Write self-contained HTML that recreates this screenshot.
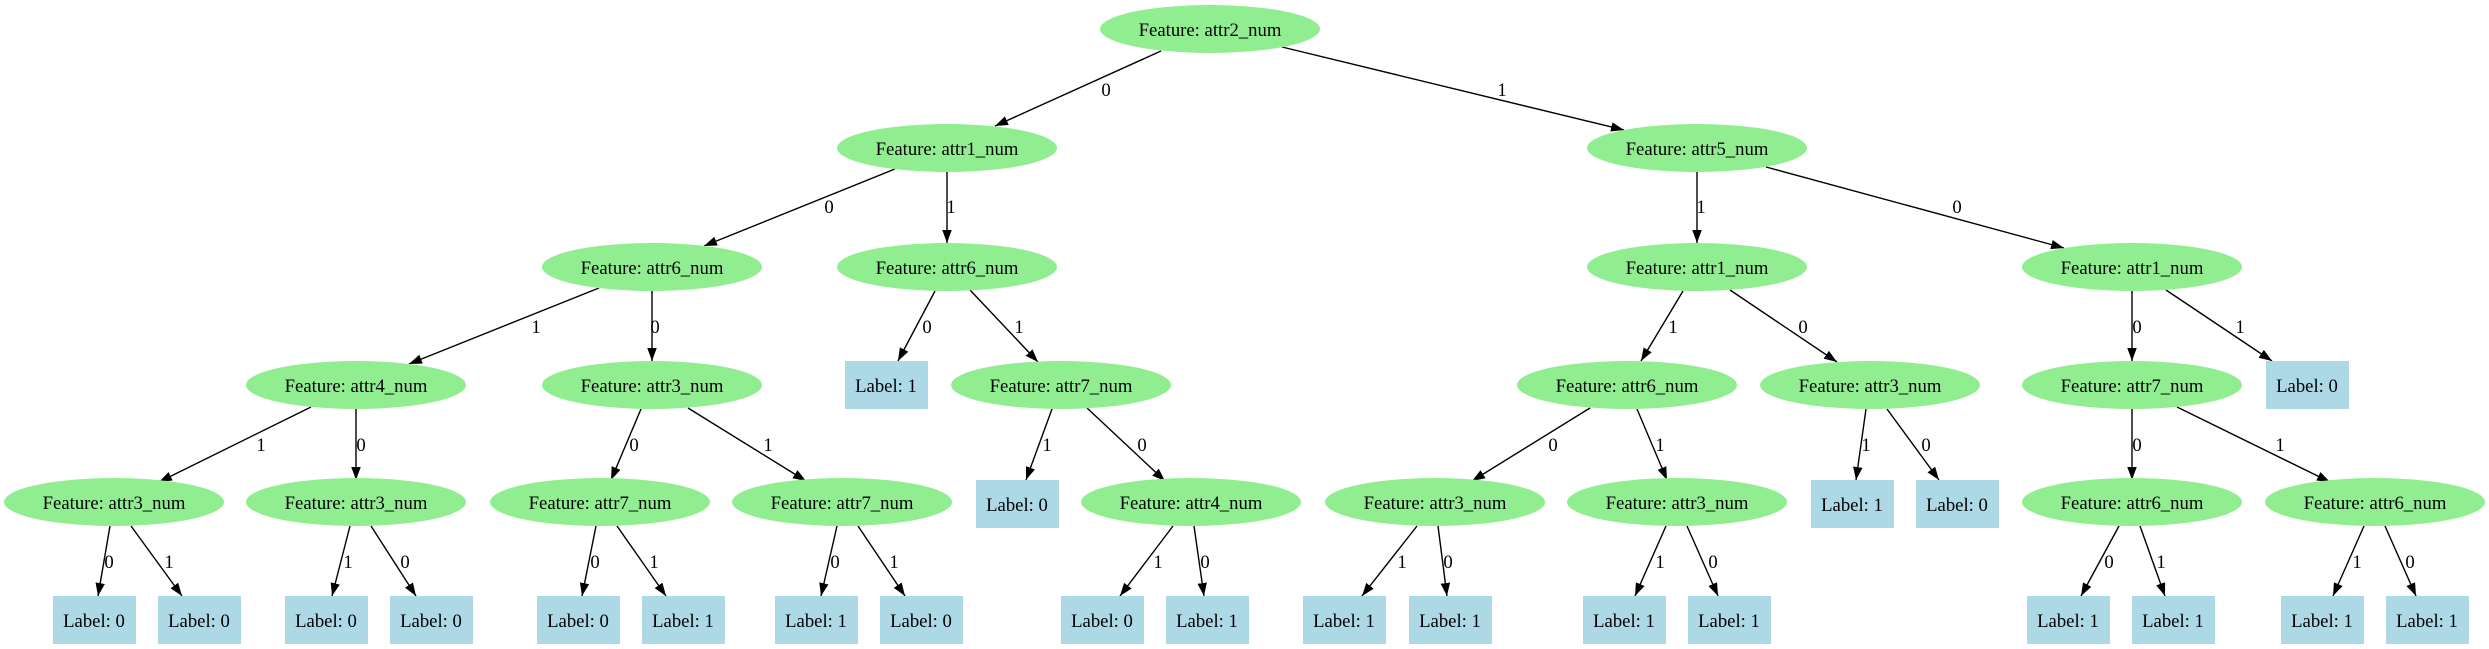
<!DOCTYPE html>
<html><head><meta charset="utf-8"><style>
html,body{margin:0;padding:0;background:#fff;}
svg{display:block;}
text{font-family:"Liberation Serif",serif;font-size:18.7px;fill:#000;text-anchor:middle;}
.e{fill:#90EE90;}
.b{fill:#ADD8E6;}
line{stroke:#000;stroke-width:1.4;}
</style></head><body>
<svg width="2489" height="649" viewBox="0 0 2489 649" xmlns="http://www.w3.org/2000/svg">
<defs><marker id="a" markerUnits="userSpaceOnUse" markerWidth="14" markerHeight="10" refX="13" refY="4.75" orient="auto"><path d="M0,0 L13,4.75 L0,9.5 z" fill="#000"/></marker></defs>
<g marker-end="url(#a)">
<line x1="1161" y1="51" x2="995" y2="126"/>
<line x1="1282" y1="47" x2="1624" y2="130"/>
<line x1="895" y1="169" x2="704" y2="246"/>
<line x1="947" y1="172" x2="947" y2="243"/>
<line x1="1697" y1="172" x2="1697" y2="243"/>
<line x1="1766" y1="167" x2="2064" y2="248"/>
<line x1="599" y1="288" x2="409" y2="364"/>
<line x1="652" y1="291" x2="652" y2="361"/>
<line x1="935" y1="291" x2="898" y2="361"/>
<line x1="970" y1="290" x2="1038" y2="362"/>
<line x1="1683" y1="291" x2="1641" y2="361"/>
<line x1="1730" y1="290" x2="1837" y2="362"/>
<line x1="2132" y1="291" x2="2132" y2="361"/>
<line x1="2166" y1="290" x2="2272" y2="361"/>
<line x1="311" y1="407" x2="159" y2="482"/>
<line x1="356" y1="409" x2="356" y2="480"/>
<line x1="641" y1="409" x2="611" y2="480"/>
<line x1="688" y1="408" x2="806" y2="481"/>
<line x1="1052" y1="409" x2="1026" y2="480"/>
<line x1="1087" y1="408" x2="1165" y2="481"/>
<line x1="1590" y1="408" x2="1472" y2="481"/>
<line x1="1637" y1="409" x2="1667" y2="480"/>
<line x1="1866" y1="409" x2="1856" y2="480"/>
<line x1="1887" y1="409" x2="1939" y2="480"/>
<line x1="2132" y1="409" x2="2132" y2="480"/>
<line x1="2177" y1="407" x2="2330" y2="482"/>
<line x1="110" y1="526" x2="98" y2="596"/>
<line x1="131" y1="526" x2="182" y2="596"/>
<line x1="350" y1="526" x2="332" y2="596"/>
<line x1="371" y1="526" x2="416" y2="596"/>
<line x1="596" y1="526" x2="582" y2="596"/>
<line x1="617" y1="526" x2="666" y2="596"/>
<line x1="837" y1="526" x2="821" y2="596"/>
<line x1="858" y1="526" x2="905" y2="596"/>
<line x1="1173" y1="526" x2="1120" y2="596"/>
<line x1="1194" y1="526" x2="1204" y2="596"/>
<line x1="1417" y1="526" x2="1362" y2="596"/>
<line x1="1438" y1="526" x2="1447" y2="596"/>
<line x1="1666" y1="526" x2="1635" y2="596"/>
<line x1="1687" y1="526" x2="1718" y2="596"/>
<line x1="2119" y1="526" x2="2081" y2="596"/>
<line x1="2140" y1="526" x2="2165" y2="596"/>
<line x1="2364" y1="526" x2="2333" y2="596"/>
<line x1="2385" y1="526" x2="2416" y2="596"/>
</g>
<g>
<text x="1106" y="96">0</text><text x="1502" y="96">1</text>
<text x="829" y="213">0</text><text x="951" y="213">1</text>
<text x="1701" y="213">1</text><text x="1957" y="213">0</text>
<text x="536" y="333">1</text><text x="655" y="333">0</text>
<text x="927" y="333">0</text><text x="1019" y="333">1</text>
<text x="1673" y="333">1</text><text x="1803" y="333">0</text>
<text x="2137" y="333">0</text><text x="2240" y="333">1</text>
<text x="261" y="451">1</text><text x="361" y="451">0</text>
<text x="634" y="451">0</text><text x="768" y="451">1</text>
<text x="1047" y="451">1</text><text x="1142" y="451">0</text>
<text x="1553" y="451">0</text><text x="1660" y="451">1</text>
<text x="1866" y="451">1</text><text x="1926" y="451">0</text>
<text x="2137" y="451">0</text><text x="2280" y="451">1</text>
<text x="109" y="568">0</text><text x="169" y="568">1</text>
<text x="348" y="568">1</text><text x="405" y="568">0</text>
<text x="595" y="568">0</text><text x="654" y="568">1</text>
<text x="835" y="568">0</text><text x="894" y="568">1</text>
<text x="1158" y="568">1</text><text x="1205" y="568">0</text>
<text x="1402" y="568">1</text><text x="1448" y="568">0</text>
<text x="1660" y="568">1</text><text x="1713" y="568">0</text>
<text x="2109" y="568">0</text><text x="2161" y="568">1</text>
<text x="2357" y="568">1</text><text x="2410" y="568">0</text>
</g>
<g>
<ellipse class="e" cx="1210" cy="29" rx="110" ry="24"/><text x="1210" y="36">Feature: attr2_num</text>
<ellipse class="e" cx="947" cy="148" rx="110" ry="24"/><text x="947" y="155">Feature: attr1_num</text>
<ellipse class="e" cx="1697" cy="148" rx="110" ry="24"/><text x="1697" y="155">Feature: attr5_num</text>
<ellipse class="e" cx="652" cy="267" rx="110" ry="24"/><text x="652" y="274">Feature: attr6_num</text>
<ellipse class="e" cx="947" cy="267" rx="110" ry="24"/><text x="947" y="274">Feature: attr6_num</text>
<ellipse class="e" cx="1697" cy="267" rx="110" ry="24"/><text x="1697" y="274">Feature: attr1_num</text>
<ellipse class="e" cx="2132" cy="267" rx="110" ry="24"/><text x="2132" y="274">Feature: attr1_num</text>
<ellipse class="e" cx="356" cy="385" rx="110" ry="24"/><text x="356" y="392">Feature: attr4_num</text>
<ellipse class="e" cx="652" cy="385" rx="110" ry="24"/><text x="652" y="392">Feature: attr3_num</text>
<rect class="b" x="845" y="361" width="83" height="48"/><text x="886" y="392">Label: 1</text>
<ellipse class="e" cx="1061" cy="385" rx="110" ry="24"/><text x="1061" y="392">Feature: attr7_num</text>
<ellipse class="e" cx="1627" cy="385" rx="110" ry="24"/><text x="1627" y="392">Feature: attr6_num</text>
<ellipse class="e" cx="1870" cy="385" rx="110" ry="24"/><text x="1870" y="392">Feature: attr3_num</text>
<ellipse class="e" cx="2132" cy="385" rx="110" ry="24"/><text x="2132" y="392">Feature: attr7_num</text>
<rect class="b" x="2266" y="361" width="83" height="48"/><text x="2307" y="392">Label: 0</text>
<ellipse class="e" cx="114" cy="502" rx="110" ry="24"/><text x="114" y="509">Feature: attr3_num</text>
<ellipse class="e" cx="356" cy="502" rx="110" ry="24"/><text x="356" y="509">Feature: attr3_num</text>
<ellipse class="e" cx="600" cy="502" rx="110" ry="24"/><text x="600" y="509">Feature: attr7_num</text>
<ellipse class="e" cx="842" cy="502" rx="110" ry="24"/><text x="842" y="509">Feature: attr7_num</text>
<rect class="b" x="976" y="480" width="83" height="48"/><text x="1017" y="511">Label: 0</text>
<ellipse class="e" cx="1191" cy="502" rx="110" ry="24"/><text x="1191" y="509">Feature: attr4_num</text>
<ellipse class="e" cx="1435" cy="502" rx="110" ry="24"/><text x="1435" y="509">Feature: attr3_num</text>
<ellipse class="e" cx="1677" cy="502" rx="110" ry="24"/><text x="1677" y="509">Feature: attr3_num</text>
<rect class="b" x="1811" y="480" width="83" height="48"/><text x="1852" y="511">Label: 1</text>
<rect class="b" x="1916" y="480" width="83" height="48"/><text x="1957" y="511">Label: 0</text>
<ellipse class="e" cx="2132" cy="502" rx="110" ry="24"/><text x="2132" y="509">Feature: attr6_num</text>
<ellipse class="e" cx="2375" cy="502" rx="110" ry="24"/><text x="2375" y="509">Feature: attr6_num</text>
<rect class="b" x="53" y="596" width="83" height="48"/><text x="94" y="627">Label: 0</text>
<rect class="b" x="158" y="596" width="83" height="48"/><text x="199" y="627">Label: 0</text>
<rect class="b" x="285" y="596" width="83" height="48"/><text x="326" y="627">Label: 0</text>
<rect class="b" x="390" y="596" width="83" height="48"/><text x="431" y="627">Label: 0</text>
<rect class="b" x="537" y="596" width="83" height="48"/><text x="578" y="627">Label: 0</text>
<rect class="b" x="642" y="596" width="83" height="48"/><text x="683" y="627">Label: 1</text>
<rect class="b" x="775" y="596" width="83" height="48"/><text x="816" y="627">Label: 1</text>
<rect class="b" x="880" y="596" width="83" height="48"/><text x="921" y="627">Label: 0</text>
<rect class="b" x="1061" y="596" width="83" height="48"/><text x="1102" y="627">Label: 0</text>
<rect class="b" x="1166" y="596" width="83" height="48"/><text x="1207" y="627">Label: 1</text>
<rect class="b" x="1303" y="596" width="83" height="48"/><text x="1344" y="627">Label: 1</text>
<rect class="b" x="1409" y="596" width="83" height="48"/><text x="1450" y="627">Label: 1</text>
<rect class="b" x="1583" y="596" width="83" height="48"/><text x="1624" y="627">Label: 1</text>
<rect class="b" x="1688" y="596" width="83" height="48"/><text x="1729" y="627">Label: 1</text>
<rect class="b" x="2027" y="596" width="83" height="48"/><text x="2068" y="627">Label: 1</text>
<rect class="b" x="2132" y="596" width="83" height="48"/><text x="2173" y="627">Label: 1</text>
<rect class="b" x="2281" y="596" width="83" height="48"/><text x="2322" y="627">Label: 1</text>
<rect class="b" x="2386" y="596" width="83" height="48"/><text x="2427" y="627">Label: 1</text>
</g>
</svg>
</body></html>
